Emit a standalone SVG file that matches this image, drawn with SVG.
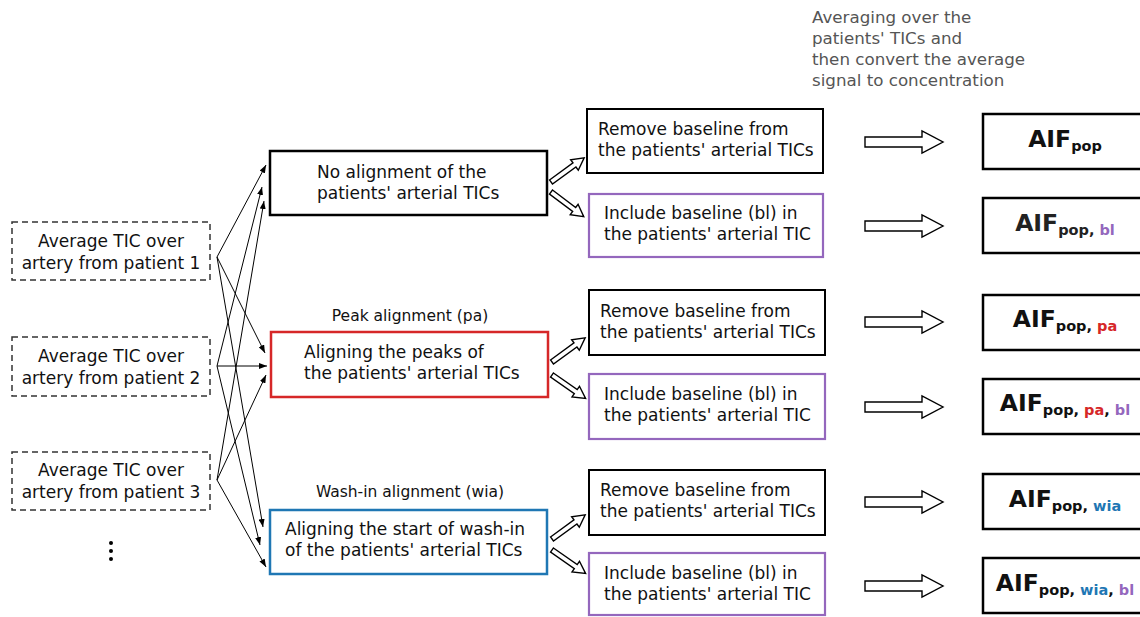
<svg xmlns="http://www.w3.org/2000/svg" width="1140" height="617" viewBox="0 0 1140 617">
<style>
text{font-family:"DejaVu Sans","Verdana",sans-serif;fill:#111}
.t17{font-size:17px}
.mid{text-anchor:middle}
.lab{font-size:15.5px;text-anchor:middle}
.note{font-size:16.7px;fill:#555}
.dash{fill:#fff;stroke:#333;stroke-width:1.5;stroke-dasharray:6,4}
.blk{fill:#fff;stroke:#000;stroke-width:2.5}
.rem{fill:#fff;stroke:#000;stroke-width:2}
.pur{fill:#fff;stroke:#9467bd;stroke-width:2.2}
.red{fill:#fff;stroke:#d62728;stroke-width:2.5}
.blu{fill:#fff;stroke:#1f77b4;stroke-width:2.5}
.aif{fill:#fff;stroke:#000;stroke-width:2.5}
.big{font-size:23.5px;font-weight:bold}
.sub{font-size:14.5px;font-weight:bold}
.cr{fill:#d62728}.cp{fill:#9467bd}.cb{fill:#1f77b4}
.ln{stroke:#000;stroke-width:1;fill:none;marker-end:url(#ah)}
.ha{fill:#fff;stroke:#000;stroke-width:1.4}
</style>
<defs>
<marker id="ah" markerWidth="8" markerHeight="6" refX="8" refY="3" orient="auto" markerUnits="userSpaceOnUse"><path d="M0,0 L8,3 L0,6 z" fill="#000"/></marker>
<path id="diag" d="M0,-2.5 L29,-2.5 L29,-6.5 L41,0 L29,6.5 L29,2.5 L0,2.5 Z"/>
<path id="hor" d="M0,-5 L57,-5 L57,-11 L78,0 L57,11 L57,5 L0,5 Z"/>
</defs>

<text class="note" x="812" y="23">Averaging over the</text>
<text class="note" x="812" y="44">patients' TICs and</text>
<text class="note" x="812" y="65">then convert the average</text>
<text class="note" x="812" y="86">signal to concentration</text>

<g id="patient1"><rect class="dash" x="12" y="222" width="198" height="58"/>
<text class="t17 mid" x="111" y="247">Average TIC over</text><text class="t17 mid" x="111" y="269">artery from patient 1</text></g>
<g id="patient2"><rect class="dash" x="12" y="337" width="198" height="59"/>
<text class="t17 mid" x="111" y="362">Average TIC over</text><text class="t17 mid" x="111" y="384">artery from patient 2</text></g>
<g id="patient3"><rect class="dash" x="12" y="452" width="198" height="58"/>
<text class="t17 mid" x="111" y="476">Average TIC over</text><text class="t17 mid" x="111" y="498">artery from patient 3</text></g>
<g id="more"><circle cx="111" cy="543" r="2"/><circle cx="111" cy="551" r="2"/><circle cx="111" cy="559" r="2"/></g>

<g id="noalign"><rect class="blk" x="270" y="151" width="277" height="64"/>
<text class="t17" x="317" y="178">No alignment of the</text><text class="t17" x="317" y="199">patients' arterial TICs</text></g>
<g id="peak"><text class="lab" x="410" y="321">Peak alignment (pa)</text>
<rect class="red" x="271" y="332" width="277" height="65"/>
<text class="t17" x="304" y="358">Aligning the peaks of</text><text class="t17" x="304" y="379">the patients' arterial TICs</text></g>
<g id="washin"><text class="lab" x="410" y="497">Wash-in alignment (wia)</text>
<rect class="blu" x="270" y="510" width="277" height="64"/>
<text class="t17" x="285" y="535">Aligning the start of wash-in</text><text class="t17" x="285" y="556">of the patients' arterial TICs</text></g>

<g id="rem1"><rect class="rem" x="587" y="109" width="236" height="64"/>
<text class="t17" x="598" y="135">Remove baseline from</text><text class="t17" x="598" y="156">the patients' arterial TICs</text></g>
<g id="inc1"><rect class="pur" x="589" y="194" width="234" height="63"/>
<text class="t17" x="604" y="219">Include baseline (bl) in</text><text class="t17" x="604" y="240">the patients' arterial TIC</text></g>
<g id="rem2"><rect class="rem" x="589" y="290" width="236" height="65"/>
<text class="t17" x="600" y="317">Remove baseline from</text><text class="t17" x="600" y="338">the patients' arterial TICs</text></g>
<g id="inc2"><rect class="pur" x="589" y="374" width="236" height="65"/>
<text class="t17" x="604" y="400">Include baseline (bl) in</text><text class="t17" x="604" y="421">the patients' arterial TIC</text></g>
<g id="rem3"><rect class="rem" x="589" y="470" width="236" height="65"/>
<text class="t17" x="600" y="496">Remove baseline from</text><text class="t17" x="600" y="517">the patients' arterial TICs</text></g>
<g id="inc3"><rect class="pur" x="589" y="553" width="236" height="62"/>
<text class="t17" x="604" y="579">Include baseline (bl) in</text><text class="t17" x="604" y="600">the patients' arterial TIC</text></g>

<g id="aif1"><rect class="aif" x="983" y="114" width="200" height="55"/>
<text class="mid" x="1065" y="147"><tspan class="big">AIF</tspan><tspan class="sub" dy="4">pop</tspan></text></g>
<g id="aif2"><rect class="aif" x="983" y="198" width="200" height="55"/>
<text class="mid" x="1065" y="231" style="fill:#222"><tspan class="big">AIF</tspan><tspan class="sub" dy="4">pop, </tspan><tspan class="sub cp">bl</tspan></text></g>
<g id="aif3"><rect class="aif" x="983" y="295" width="200" height="55"/>
<text class="mid" x="1065" y="327"><tspan class="big">AIF</tspan><tspan class="sub" dy="4">pop, </tspan><tspan class="sub cr">pa</tspan></text></g>
<g id="aif4"><rect class="aif" x="983" y="379" width="200" height="55"/>
<text class="mid" x="1065" y="411"><tspan class="big">AIF</tspan><tspan class="sub" dy="4">pop, </tspan><tspan class="sub cr">pa</tspan><tspan class="sub">, </tspan><tspan class="sub cp">bl</tspan></text></g>
<g id="aif5"><rect class="aif" x="983" y="474" width="200" height="55"/>
<text class="mid" x="1065" y="507"><tspan class="big">AIF</tspan><tspan class="sub" dy="4">pop, </tspan><tspan class="sub cb">wia</tspan></text></g>
<g id="aif6"><rect class="aif" x="983" y="558" width="200" height="55"/>
<text class="mid" x="1065" y="591"><tspan class="big">AIF</tspan><tspan class="sub" dy="4">pop, </tspan><tspan class="sub cb">wia</tspan><tspan class="sub">, </tspan><tspan class="sub cp">bl</tspan></text></g>

<g id="connectors">
<line class="ln" x1="217" y1="257" x2="266" y2="165"/>
<line class="ln" x1="217" y1="257" x2="265" y2="353"/>
<line class="ln" x1="217" y1="257" x2="263" y2="527"/>
<line class="ln" x1="217" y1="366" x2="262" y2="187"/>
<line class="ln" x1="217" y1="366" x2="267" y2="366"/>
<line class="ln" x1="217" y1="366" x2="260" y2="545"/>
<line class="ln" x1="217" y1="480" x2="264" y2="201"/>
<line class="ln" x1="217" y1="480" x2="266" y2="375"/>
<line class="ln" x1="217" y1="480" x2="266" y2="567"/>
<use href="#diag" class="ha" transform="translate(551,182) rotate(-36)"/>
<use href="#diag" class="ha" transform="translate(551,192) rotate(37)"/>
<use href="#diag" class="ha" transform="translate(552,362) rotate(-36)"/>
<use href="#diag" class="ha" transform="translate(552,375) rotate(35)"/>
<use href="#diag" class="ha" transform="translate(552,539) rotate(-36)"/>
<use href="#diag" class="ha" transform="translate(552,550) rotate(35)"/>
<use href="#hor" class="ha" transform="translate(865,142)"/>
<use href="#hor" class="ha" transform="translate(865,226)"/>
<use href="#hor" class="ha" transform="translate(865,322)"/>
<use href="#hor" class="ha" transform="translate(865,407)"/>
<use href="#hor" class="ha" transform="translate(865,502)"/>
<use href="#hor" class="ha" transform="translate(865,586)"/>
</g>
</svg>
